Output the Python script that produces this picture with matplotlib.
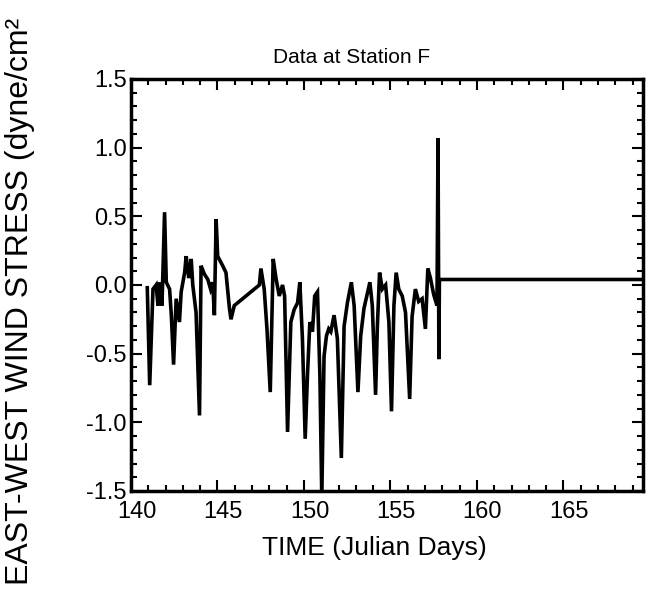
import numpy as np
import matplotlib
matplotlib.use('Agg')
import matplotlib.pyplot as plt
import matplotlib.transforms as mtransforms
from matplotlib.ticker import MultipleLocator

plt.rcParams['font.family'] = ['Liberation Sans', 'DejaVu Sans']

# east-west wind stress
days = [140.94, 141.08, 141.27, 141.45, 141.56, 141.65, 141.79, 141.94, 142.04, 142.23,
        142.33, 142.46, 142.61, 142.80, 142.90, 143.10, 143.19, 143.34, 143.48, 143.57,
        143.76, 143.96, 144.05, 144.24, 144.44, 144.60, 144.72, 144.82, 144.92, 145.01,
        145.30, 145.49, 145.69, 145.78, 145.97, 147.42, 147.51, 147.70, 147.86, 148.05,
        148.22, 148.38, 148.57, 148.76, 148.88, 149.05, 149.24, 149.43, 149.63, 149.76,
        149.91, 150.07, 150.20, 150.34, 150.49, 150.62, 150.78, 150.92, 151.03, 151.16,
        151.30, 151.43, 151.55, 151.74, 151.93, 152.16, 152.32, 152.51, 152.74, 152.90,
        153.12, 153.28, 153.47, 153.81, 153.95, 154.14, 154.24, 154.37, 154.53, 154.72,
        154.91, 155.06, 155.20, 155.33, 155.48, 155.68, 155.87, 156.11, 156.25, 156.44,
        156.63, 156.83, 157.02, 157.16, 157.31, 157.50, 157.69, 157.75, 157.80, 157.83,
        169.70]
stress = [-0.02, -0.73, -0.03, 0.00, -0.15, 0.02, -0.15, 0.53, 0.02, -0.03,
          -0.22, -0.58, -0.10, -0.27, -0.05, 0.09, 0.21, 0.05, 0.19, 0.00,
          -0.20, -0.95, 0.14, 0.08, 0.04, -0.03, 0.02, -0.22, 0.48, 0.21,
          0.14, 0.09, -0.17, -0.25, -0.15, 0.00, 0.12, -0.03, -0.32, -0.78,
          0.19, 0.05, -0.08, 0.00, -0.08, -1.07, -0.27, -0.18, -0.13, 0.02,
          -0.39, -1.12, -0.66, -0.27, -0.34, -0.08, -0.05, -0.66, -1.55, -0.52,
          -0.37, -0.32, -0.34, -0.22, -0.39, -1.26, -0.30, -0.13, 0.02, -0.15,
          -0.78, -0.37, -0.17, 0.02, -0.15, -0.80, -0.31, 0.09, -0.03, 0.00,
          -0.27, -0.92, -0.15, 0.09, -0.03, -0.08, -0.20, -0.83, -0.23, -0.03,
          -0.12, -0.10, -0.32, 0.12, 0.05, -0.07, -0.15, 1.07, -0.54, 0.04,
          0.04]

fig = plt.figure(figsize=(6.47, 5.97), dpi=100)
ax = fig.add_axes([0.2025, 0.1776, 0.7913, 0.6901])

ax.plot(days, stress, color='black', lw=2.6, solid_joinstyle='miter')

ax.set_xlim(140, 169.6)
ax.set_ylim(-1.5, 1.5)
ax.xaxis.set_major_locator(MultipleLocator(5))
ax.xaxis.set_minor_locator(MultipleLocator(1))
ax.yaxis.set_major_locator(MultipleLocator(0.5))
ax.yaxis.set_minor_locator(MultipleLocator(0.1))
ax.yaxis.set_major_formatter(plt.FuncFormatter(lambda v, p: f'{v:.1f}'))
ax.tick_params(which='both', direction='in', top=True, right=True, width=1.5,
               labelsize=17, pad=3)
ax.tick_params(axis='x', pad=7)
ax.tick_params(which='major', length=8)
ax.tick_params(which='minor', length=4)
for s in ax.spines.values():
    s.set_linewidth(2.5)

# x tick labels sit a little right of their ticks in the scan
shift = mtransforms.ScaledTranslation(4 / 72, 0, fig.dpi_scale_trans)
for lab in ax.get_xticklabels():
    lab.set_transform(lab.get_transform() + shift)

fig.text(0.544, 0.904, 'Data at Station F', fontsize=15, ha='center', va='center')
fig.text(0.578, 0.082, 'TIME (Julian Days)', fontsize=19, ha='center', va='center')
fig.text(0.031, 0.495, 'EAST-WEST WIND STRESS (dyne/cm²', fontsize=23,
         rotation=90, ha='center', va='center')

fig.savefig('out.png', dpi=100)
